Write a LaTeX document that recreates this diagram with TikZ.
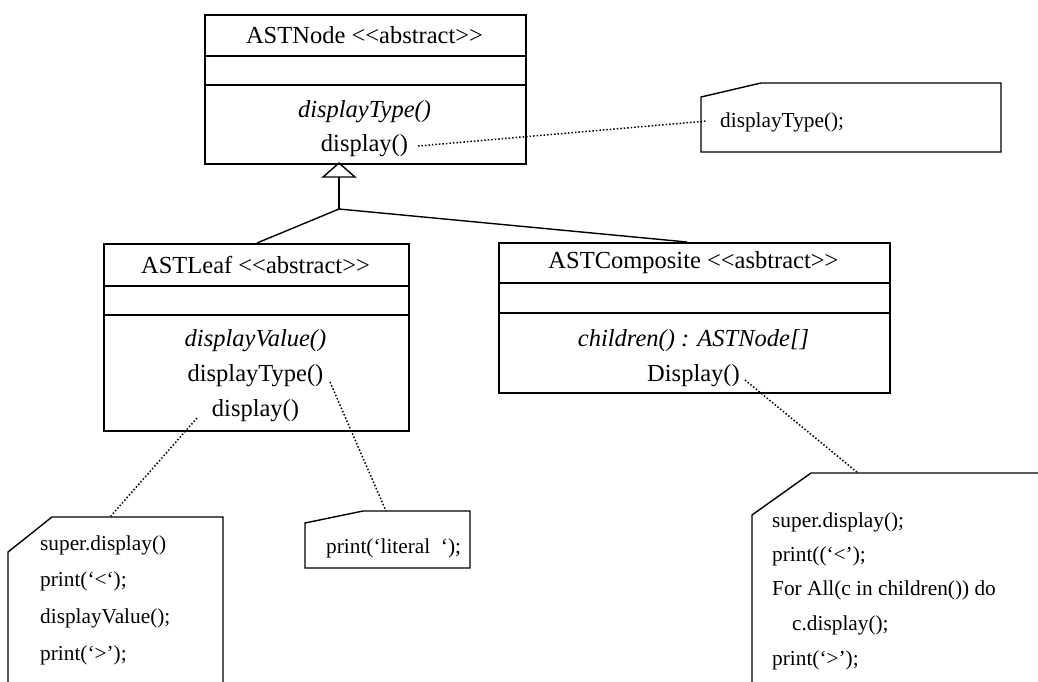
\documentclass[tikz,border=0pt]{standalone}
\usepackage{fontspec}
\setmainfont{Liberation Serif}[Ligatures=TeXOff]
\begin{document}
\begin{tikzpicture}[x=1pt,y=-1pt,
  classbox/.style={draw,line width=1.6pt,rectangle,inner sep=0pt,anchor=north west},
  ctext/.style={inner sep=0pt,font=\fontsize{24.5}{28}\selectfont},
  ntext/.style={inner sep=0pt,anchor=west,font=\fontsize{21.3}{25}\selectfont},
  notebox/.style={line width=1.4pt,line join=miter},
  link/.style={line width=1.4pt},
  anchorline/.style={dotted,line width=1.5pt}]
\useasboundingbox (0,0) rectangle (1038,681);

% ---------- ASTNode ----------
\node[classbox,minimum width=321pt,minimum height=149pt] (astnode) at (204,14) {};
\draw[line width=1.6pt] (204,56) -- (525,56);
\draw[line width=1.6pt] (204,85) -- (525,85);
\node[ctext] (astnodeT) at (364.5,35) {ASTNode <{}<abstract>{}>};
\node[ctext] (astnodeM1) at (364.5,112) {\itshape displayType()};
\node[ctext] (astnodeM2) at (364.5,146) {display()};

% ---------- ASTLeaf ----------
\node[classbox,minimum width=305pt,minimum height=187pt] (leaf) at (103,243) {};
\draw[line width=1.6pt] (103,286) -- (408,286);
\draw[line width=1.6pt] (103,315) -- (408,315);
\node[ctext] (leafT) at (255.5,265) {ASTLeaf <{}<abstract>{}>};
\node[ctext] (leafM1) at (255.5,341) {\itshape displayValue()};
\node[ctext] (leafM2) at (255.5,376) {displayType()};
\node[ctext] (leafM3) at (255.5,411) {display()};

% ---------- ASTComposite ----------
\node[classbox,minimum width=391pt,minimum height=150pt] (comp) at (498,242) {};
\draw[line width=1.6pt] (498,283) -- (889,283);
\draw[line width=1.6pt] (498,313) -- (889,313);
\node[ctext] (compT) at (693.5,263) {ASTComposite <{}<asbtract>{}>};
\node[ctext] (compM1) at (693.5,341) {\itshape children() : ASTNode[]};
\node[ctext] (compM2) at (693.5,376) {Display()};

% ---------- generalization ----------
\coordinate (apex) at (339,163);
\coordinate (tribase) at (339,177);
\coordinate (junc) at (339,209);
\coordinate (leaftop) at (257,243);
\coordinate (comptop) at (687,242);
\draw[link,line join=miter] (apex) -- (323,177) -- (355,177) -- cycle;
\draw[link] (tribase) -- (junc);
\draw[link] (junc) -- (leaftop);
\draw[link] (junc) -- (comptop);

% ---------- note: displayType(); ----------
\draw[notebox] (701,97) -- (761,83) -- (1001,83) -- (1001,152) -- (701,152) -- cycle;
\node[ntext] (n1) at (720,122) {displayType();};
\coordinate (n1a) at (707,121);
\coordinate (s1) at (418,146);
\draw[anchorline] (s1) -- (n1a);

% ---------- note: leaf display ----------
\draw[notebox] (8,700) -- (8,552) -- (52,517) -- (223,517) -- (223,700);
\node[ntext] (n2a) at (40,545) {super.display()};
\node[ntext] (n2b) at (40,581) {print(‘<‘);};
\node[ntext] (n2c) at (40,618) {displayValue();};
\node[ntext] (n2d) at (40,655) {print(‘>’);};
\coordinate (n2top) at (110,517);
\coordinate (s2) at (197,418);
\draw[anchorline] (s2) -- (n2top);

% ---------- note: literal ----------
\draw[notebox] (305,568) -- (305,523) -- (363,511) -- (470,511) -- (470,568) -- cycle;
\node[ntext] (n3) at (326,548) {print(‘literal~~‘);};
\coordinate (n3top) at (386,511);
\coordinate (s3) at (330,382);
\draw[anchorline] (s3) -- (n3top);

% ---------- note: composite display ----------
\draw[notebox] (752,700) -- (752,515) -- (811,473) -- (1045,473);
\node[ntext] (n4a) at (772,522) {super.display();};
\node[ntext] (n4b) at (772,556) {print((‘<’);};
\node[ntext] (n4c) at (772,590) {For All(c in children()) do};
\node[ntext] (n4d) at (792,625) {c.display();};
\node[ntext] (n4e) at (772,660) {print(‘>’);};
\coordinate (n4top) at (858,473);
\coordinate (s4) at (745,380);
\draw[anchorline] (s4) -- (n4top);
\end{tikzpicture}
\end{document}
